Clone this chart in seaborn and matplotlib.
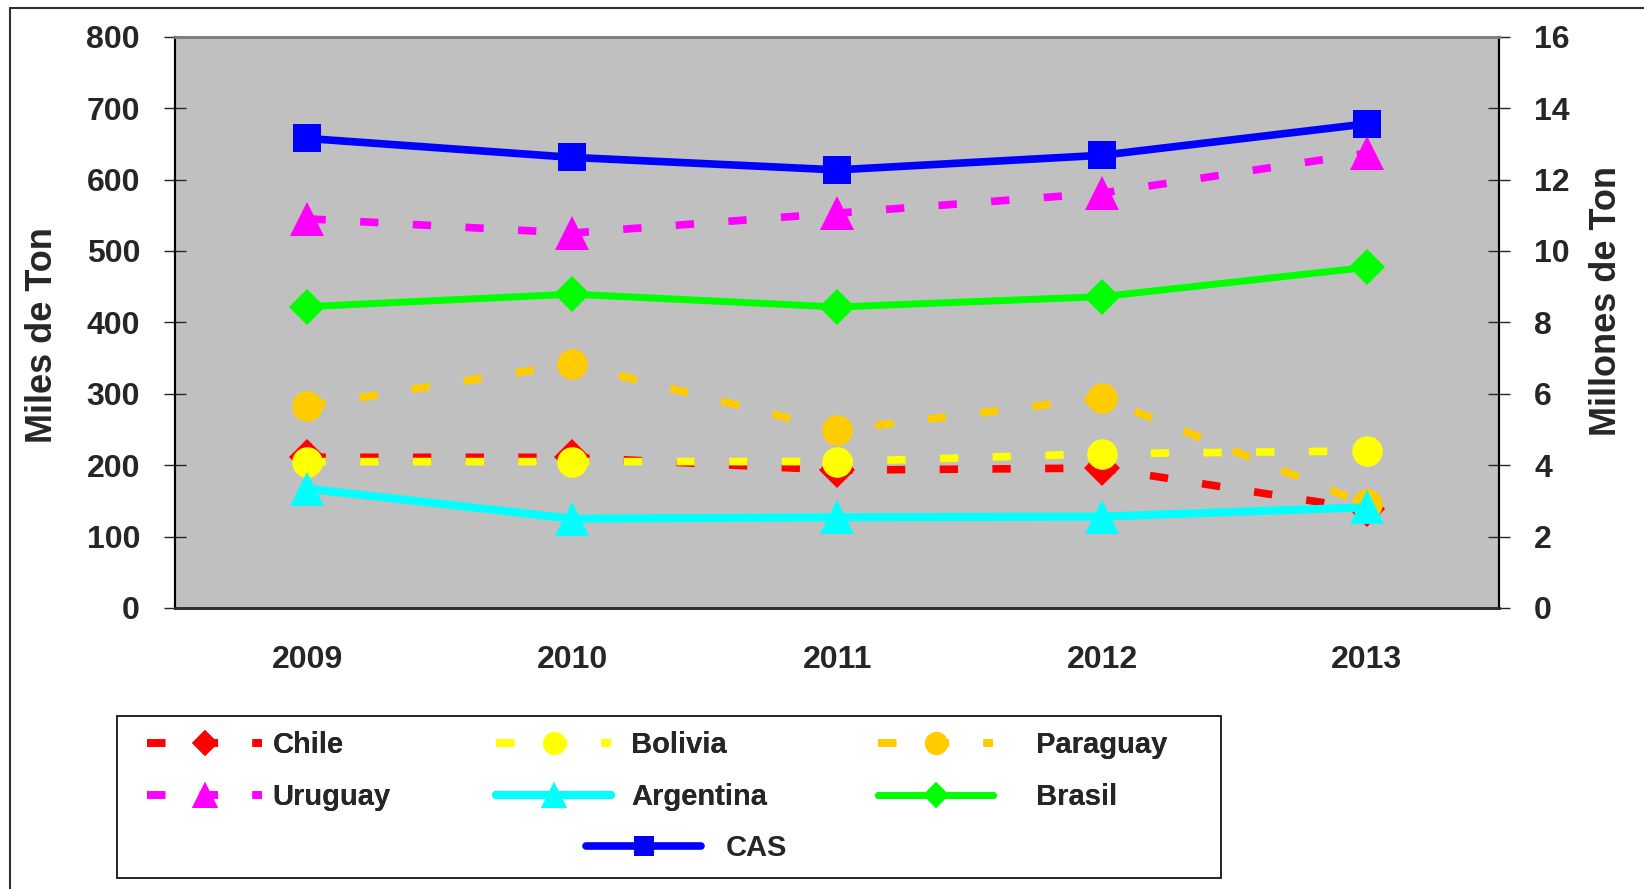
import matplotlib
matplotlib.use('Agg')
import matplotlib.pyplot as plt
import matplotlib.patches as patches
from matplotlib.lines import Line2D
import seaborn as sns

# Data (left axis: miles de ton, right axis: millones de ton)
years = ['2009', '2010', '2011', '2012', '2013']
chile = [211, 211, 193, 196, 138]
bolivia = [205, 205, 205, 216, 220]
paraguay = [283, 342, 249, 294, 145]
uruguay = [545, 525, 553, 581, 637]
argentina = [167, 125, 127, 128, 141]
brasil = [8.44, 8.79, 8.43, 8.72, 9.54]
cas = [13.15, 12.62, 12.27, 12.68, 13.56]

left_ticks = [0, 100, 200, 300, 400, 500, 600, 700, 800]
right_ticks = [0, 2, 4, 6, 8, 10, 12, 14, 16]

sns.set_style('white')
plt.rcParams['font.family'] = ['Liberation Sans', 'DejaVu Sans']
plt.rcParams['font.weight'] = 'bold'

fig = plt.figure(figsize=(16.44, 8.89), dpi=100)
ax = fig.add_axes([0.1065, 0.3161, 0.8054, 0.6426])
ax2 = ax.twinx()
ax.set_facecolor('#C0C0C0')
ax2.patch.set_visible(False)

x = list(range(len(years)))
dash = (0, (2.4, 4.5))

# left axis series
sns.lineplot(x=x, y=chile, ax=ax, color='#FF0000', lw=5.5, linestyle=dash, marker='D', markersize=18,
             markeredgecolor='#FF0000', markeredgewidth=0)
h_chile = ax.lines[-1]
sns.lineplot(x=x, y=bolivia, ax=ax, color='#FFFF00', lw=5.5, linestyle=dash, marker='o', markersize=22,
             markeredgecolor='#FFFF00', markeredgewidth=0)
h_bolivia = ax.lines[-1]
sns.lineplot(x=x, y=paraguay, ax=ax, color='#FFCC00', lw=5.5, linestyle=dash, marker='o', markersize=22,
             markeredgecolor='#FFCC00', markeredgewidth=0)
h_paraguay = ax.lines[-1]
sns.lineplot(x=x, y=uruguay, ax=ax, color='#FF00FF', lw=5.5, linestyle=dash, marker='^', markersize=25,
             markeredgecolor='#FF00FF', markeredgewidth=0)
h_uruguay = ax.lines[-1]
sns.lineplot(x=x, y=argentina, ax=ax, color='#00FFFF', lw=5.8, marker='^', markersize=25,
             markeredgecolor='#00FFFF', markeredgewidth=0)
h_argentina = ax.lines[-1]

# right axis series
sns.lineplot(x=x, y=brasil, ax=ax2, color='#00FF00', lw=5, marker='D', markersize=18,
             markeredgecolor='#00FF00', markeredgewidth=0)
h_brasil = ax2.lines[-1]
sns.lineplot(x=x, y=cas, ax=ax2, color='#0000FF', lw=5.5, marker='s', markersize=20,
             markeredgecolor='#0000FF', markeredgewidth=0)
h_cas = ax2.lines[-1]

# axes limits and ticks
ax.set_xlim(-0.5, len(years) - 0.5)
ax.set_ylim(0, 800)
ax2.set_ylim(0, 16)
ax.set_yticks(left_ticks)
ax2.set_yticks(right_ticks)
ax.set_xticks([i - 0.5 for i in range(len(years) + 1)])
ax.set_xticklabels([])
ax.set_xticks(x, minor=True)
ax.set_xticklabels(years, minor=True, fontsize=23, fontweight='bold')
ax.tick_params(axis='x', which='major', direction='inout', length=15, width=1, color='black')
ax.tick_params(axis='x', which='minor', length=0, pad=27)
ax.tick_params(axis='y', direction='inout', length=16.5, width=1, pad=17, labelsize=23)
ax2.tick_params(axis='y', direction='inout', length=16.5, width=1, pad=17, labelsize=23)
for lab in ax.get_yticklabels() + ax2.get_yticklabels():
    lab.set_fontweight('bold')

ax.set_xlabel('')
ax.set_ylabel('Miles de Ton', fontsize=26, fontweight='bold')
ax.yaxis.set_label_coords(-0.087, 0.477)
ax2.set_ylabel('Millones de Ton', fontsize=26, fontweight='bold')
ax2.yaxis.set_label_coords(1.068, 0.537)

# spines
for a in (ax, ax2):
    a.spines['top'].set_color('#808080')
    a.spines['top'].set_linewidth(2)
    a.spines['bottom'].set_color('#303030')
    a.spines['bottom'].set_linewidth(2)
    a.spines['left'].set_color('black')
    a.spines['left'].set_linewidth(1.5)
    a.spines['right'].set_color('black')
    a.spines['right'].set_linewidth(1.5)
    a.grid(False)

# legend: frame drawn by hand, one legend per column, CAS centred below
fig.add_artist(patches.Rectangle((0.0712, 0.0124), 0.6715, 0.1822, transform=fig.transFigure,
                                 fill=False, edgecolor='black', linewidth=1.2))
leg_style = dict(loc='upper left', frameon=False, borderpad=0, borderaxespad=0, handlelength=3.95,
                 labelspacing=0.83, markerscale=0.75, prop={'size': 21, 'weight': 'bold'})
columns = [
    ([h_chile, h_uruguay], ['Chile', 'Uruguay'], 147, 0.35),
    ([h_bolivia, h_argentina], ['Bolivia', 'Argentina'], 496, 0.69),
    ([h_paraguay, h_brasil], ['Paraguay', 'Brasil'], 878, 1.47),
]
for handles, labels, x0, pad in columns:
    leg = fig.legend(handles, labels, bbox_to_anchor=(x0 / 1644, 0.1775), handletextpad=pad, **leg_style)
    fig.add_artist(leg)
fig.legend([h_cas], ['CAS'], bbox_to_anchor=(586 / 1644, 0.0616), handletextpad=0.84, **leg_style)

# outer border of the original picture
fig.add_artist(Line2D([10 / 1644, 10 / 1644], [0, 1 - 7.5 / 889], transform=fig.transFigure,
                      color='#303030', lw=1.5))
fig.add_artist(Line2D([10 / 1644, 1], [1 - 7.5 / 889, 1 - 7.5 / 889], transform=fig.transFigure,
                      color='#303030', lw=1.5))

fig.savefig('out.png', dpi=100)
